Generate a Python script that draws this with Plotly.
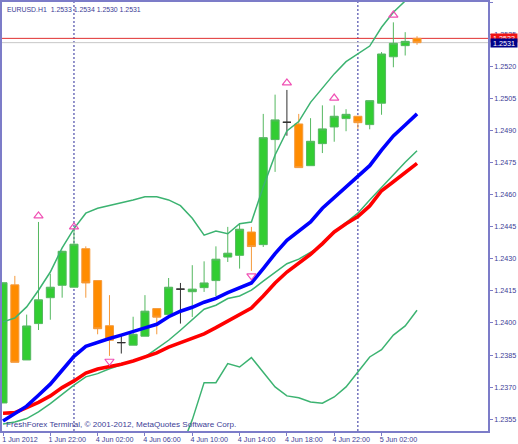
import plotly.graph_objects as go

title = "EURUSD.H1  1.2533 1.2534 1.2530 1.2531"
footer = "FreshForex Terminal, © 2001-2012, MetaQuotes Software Corp."
bars = list(range(36))
opens = [1.23626,1.24178,1.23827,1.23997,1.24118,1.24176,1.24167,1.24347,1.24198,1.23987,1.23908,1.23896,1.23938,1.24067,1.24039,1.24158,
         1.24146,1.24165,1.24198,1.24308,1.24316,1.24425,1.24366,1.24857,1.24938,1.24930,1.24735,1.24838,1.24916,1.24955,1.24966,1.24927,
         1.25027,1.25244,1.25296,1.2533]
highs = [1.24188,1.24220,1.24039,1.24472,1.24230,1.24337,1.24441,1.24358,1.24198,1.24130,1.23947,1.24029,1.24130,1.24067,1.24210,1.24187,
         1.24270,1.24288,1.24358,1.24449,1.24467,1.24449,1.24977,1.25067,1.25089,1.24977,1.24957,1.25017,1.25017,1.24999,1.24966,1.25039,
         1.25266,1.25405,1.25359,1.2534]
lows = [1.23626,1.23816,1.23827,1.23967,1.24015,1.24118,1.24167,1.24118,1.23947,1.23846,1.23857,1.23896,1.23938,1.23947,1.24039,1.23997,
        1.24028,1.24145,1.24126,1.24285,1.24254,1.24243,1.24355,1.24706,1.24875,1.24726,1.24735,1.24794,1.24847,1.24896,1.24907,1.24905,
        1.24973,1.25195,1.25250,1.2530]
closes = [1.24188,1.23816,1.23986,1.24108,1.24167,1.24335,1.24368,1.24187,1.23973,1.23919,1.23908,1.23947,1.24055,1.24027,1.24167,1.24158,
          1.24158,1.24187,1.24298,1.24326,1.24438,1.24357,1.24866,1.24949,1.24938,1.24726,1.24849,1.24907,1.24966,1.24975,1.24936,1.25039,
          1.25257,1.25307,1.25316,1.2531]
doji_bars = [10, 15, 24]
fast_ma = [1.23542,1.23576,1.23611,1.23662,1.23714,1.23779,1.23844,1.23891,1.23910,1.23927,1.23943,1.23958,1.23977,1.23994,1.24029,1.24055,
           1.24073,1.24097,1.24115,1.24142,1.24165,1.24187,1.24254,1.24324,1.24386,1.24429,1.24472,1.24536,1.24587,1.24637,1.24684,1.24735,
           1.24808,1.24874,1.24925,1.24977]
slow_ma = [1.23578,1.23581,1.23604,1.23629,1.23659,1.23698,1.23729,1.23766,1.23785,1.23794,1.23807,1.23822,1.23843,1.23860,1.23887,1.23908,
           1.23927,1.23949,1.23978,1.24008,1.24037,1.24070,1.24126,1.24187,1.24238,1.24277,1.24321,1.24371,1.24425,1.24464,1.24497,1.24547,
           1.24618,1.24660,1.24704,1.24746]
band_mid = [1.23528,1.23537,1.23553,1.23584,1.23623,1.23667,1.23709,1.23748,1.23763,1.23786,1.23805,1.23821,1.23841,1.23880,1.23919,1.23966,
            1.24013,1.24064,1.24083,1.24114,1.24126,1.24153,1.24195,1.24238,1.24277,1.24298,1.24329,1.24363,1.24425,1.24467,1.24513,1.24575,
            1.24634,1.24692,1.24751,1.24805]
band_up = [1.24005,1.24023,1.24075,1.24153,1.24238,1.24351,1.24441,1.24513,1.24536,1.24548,1.24561,1.24575,1.24590,1.24590,1.24575,1.24548,
           1.24489,1.24410,1.24430,1.24417,1.24464,1.24472,1.24636,1.24785,1.24897,1.24941,1.25031,1.25097,1.25164,1.25221,1.25257,1.25294,
           1.25382,1.25452,1.25505,1.25566]
band_low_bars = list(range(15, 36))
band_low = [1.23407,1.23547,1.23721,1.23721,1.23810,1.23794,1.23838,1.23771,1.23701,1.23659,1.23650,1.23631,1.23625,1.23654,1.23701,1.23771,
            1.23841,1.23875,1.23943,1.23986,1.24059]
up_arrow_bars = [3, 6, 24, 28, 33]
up_arrow_prices = [1.24500,1.24449,1.25122,1.25051,1.25439]
down_arrow_bars = [9, 21]
down_arrow_prices = [1.23821,1.24220]
separator_bars = [6, 30]
ask, bid = 1.2533, 1.2531
x_tick_bars = [0,4,8,12,16,20,24,28,32]
x_tick_labels = ["1 Jun 2012","1 Jun 22:00","4 Jun 02:00","4 Jun 06:00","4 Jun 10:00","4 Jun 14:00","4 Jun 18:00","4 Jun 22:00","5 Jun 02:00"]
y_ticks = [1.2355,1.2370,1.2385,1.2400,1.2415,1.2430,1.2445,1.2460,1.2475,1.2490,1.2505,1.2520,1.2535,1.2550]

FRAME = "#7c7cc8"
TEXT = "#3c3c96"
GREEN_LINE = "#3cb371"
PINK = "#f050b4"
FONT = "Liberation Sans"

fig = go.Figure()


def candles(keep, up_line, down_line, up_fill, down_fill):
    mask = lambda s: [v if i in keep else None for i, v in zip(bars, s)]
    fig.add_trace(go.Candlestick(
        x=bars, open=mask(opens), high=mask(highs), low=mask(lows), close=mask(closes),
        whiskerwidth=0,
        increasing=dict(line=dict(color=up_line, width=1), fillcolor=up_fill),
        decreasing=dict(line=dict(color=down_line, width=1), fillcolor=down_fill),
        showlegend=False, hoverinfo="skip"))


candles(set(bars) - set(doji_bars), "#55b860", "#f59a3c", "#32cd32", "#ff8c00")
candles(set(doji_bars), "#303030", "#303030", "#303030", "#303030")

for xs, ys, color, width in [
    (bars, band_up, GREEN_LINE, 1.5),
    (band_low_bars, band_low, GREEN_LINE, 1.5),
    (bars, band_mid, GREEN_LINE, 1.5),
    (bars, slow_ma, "#ff0000", 3.6),
    (bars, fast_ma, "#0000ff", 3.6),
]:
    fig.add_trace(go.Scatter(x=xs, y=ys, mode="lines", line=dict(color=color, width=width),
                             showlegend=False, hoverinfo="skip"))

fig.add_trace(go.Scatter(x=up_arrow_bars, y=up_arrow_prices, mode="markers",
                         marker=dict(symbol="triangle-up-open", size=8, color=PINK, line=dict(color=PINK, width=1.2)),
                         showlegend=False, hoverinfo="skip"))
fig.add_trace(go.Scatter(x=down_arrow_bars, y=down_arrow_prices, mode="markers",
                         marker=dict(symbol="triangle-down-open", size=8, color=PINK, line=dict(color=PINK, width=1.2)),
                         showlegend=False, hoverinfo="skip"))

for b in separator_bars:
    fig.add_vline(x=b, line=dict(color="#2a2a9a", width=1, dash="2px,2px"), layer="below")
fig.add_hline(y=bid, line=dict(color="#c8c8c8", width=1), layer="below")
fig.add_hline(y=ask, line=dict(color="#e03030", width=1), layer="below")

fig.add_annotation(xref="paper", yref="paper", x=0.006, y=0.9815, xanchor="left", yanchor="middle",
                   text=title, showarrow=False, font=dict(family=FONT, size=6.9, color=TEXT))
fig.add_annotation(xref="paper", yref="paper", x=0.004, y=0.014, xanchor="left", yanchor="middle",
                   text=footer, showarrow=False, font=dict(family=FONT, size=8.1, color=TEXT))
for price, bg in [(ask, "#f01414"), (bid, "#000088")]:
    fig.add_annotation(xref="paper", yref="y", x=1.004, y=price, xanchor="left", yanchor="middle",
                       text=f"{price:.4f}", showarrow=False, bgcolor=bg, width=26, height=8,
                       borderpad=0, align="center", font=dict(family=FONT, size=7.2, color="#ffffff"))

fig.update_layout(
    width=518, height=444, margin=dict(l=2, r=30, t=2, b=13, autoexpand=False), autosize=False,
    paper_bgcolor="#ffffff", plot_bgcolor="#ffffff", showlegend=False,
    boxgap=0.15, boxgroupgap=0.2,
    xaxis=dict(range=[-0.085, 41.0], tickvals=x_tick_bars, ticktext=x_tick_labels, showgrid=False, zeroline=False,
               rangeslider=dict(visible=False), ticks="outside", ticklen=3, tickcolor=FRAME, tickwidth=1,
               tickangle=0, automargin=False,
               showline=True, linecolor=FRAME, linewidth=1.5, mirror=True, ticklabelshift=17, ticklabelstandoff=-2,
               tickfont=dict(family=FONT, size=7.2, color=TEXT)),
    yaxis=dict(range=[1.23495, 1.25500], side="right", tickvals=y_ticks, tickformat=".4f", showgrid=False, zeroline=False,
               ticks="outside", ticklen=3, tickcolor=FRAME, tickwidth=1, automargin=False,
               showline=True, linecolor=FRAME, linewidth=1.5, mirror=True,
               tickfont=dict(family=FONT, size=7.2, color=TEXT)),
)

fig.write_html("out.html", config=dict(displayModeBar=False),
               post_script="document.body.style.margin='0';")
